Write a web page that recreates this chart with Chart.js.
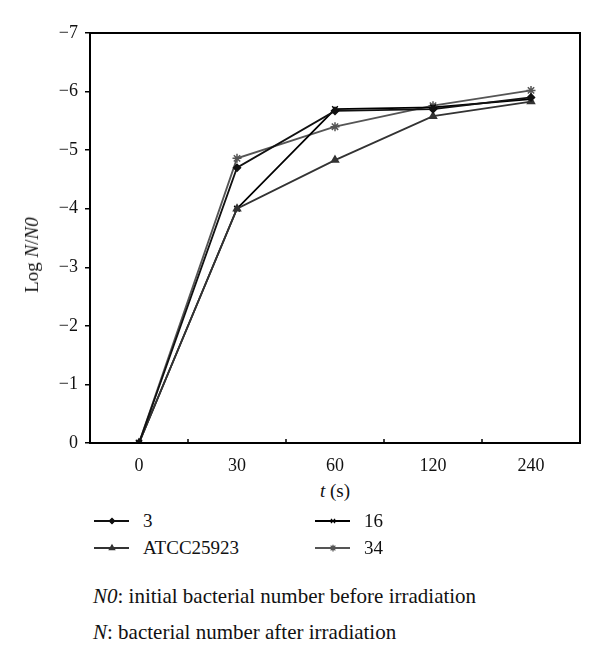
<!DOCTYPE html>
<html>
<head>
<meta charset="utf-8">
<script src="https://cdn.jsdelivr.net/npm/chart.js@4"></script>
<style>
  body { margin: 0; background: #fff; font-family: "Liberation Serif", "DejaVu Serif", serif; color: #111; }
  #wrap { position: relative; width: 600px; height: 665px; }
  #chartBox { position: absolute; left: 0; top: 0; width: 600px; height: 480px; }
  .abs { position: absolute; white-space: nowrap; }
  #yTitle { left: 32px; top: 255px; font-size: 19px; transform: translate(-50%, -50%) rotate(-90deg); }
  #xTitle { left: 335px; top: 491px; font-size: 19px; transform: translate(-50%, -50%); }
  .leg { font-size: 19px; display: flex; align-items: center; }
  .leg canvas { margin-right: 13px; }
  .note { left: 93px; font-size: 21px; }
</style>
</head>
<body>
<div id="wrap">
  <div id="chartBox"><canvas id="logChart"></canvas></div>
  <div class="abs" id="yTitle">Log <i>N</i>/<i>N0</i></div>
  <div class="abs" id="xTitle"><i>t</i> (s)</div>
  <div id="legend"></div>
  <div class="abs note" style="top:584px"><i>N0</i>: initial bacterial number before irradiation</div>
  <div class="abs note" style="top:620px"><i>N</i>: bacterial number after irradiation</div>
</div>
<script>
const times = ['0', '30', '60', '120', '240'];
const strain3 = [0, -4.7, -5.67, -5.7, -5.9];
const strainATCC = [0, -4.0, -4.83, -5.58, -5.83];
const strain16 = [0, -4.0, -5.7, -5.73, -5.87];
const strain34 = [0, -4.86, -5.4, -5.76, -6.02];
const yTicks = [0, -1, -2, -3, -4, -5, -6, -7];

const series = [
    { label: '3', data: strain3, color: '#111', style: 'rectRot', r: 3.5 },
    { label: 'ATCC25923', data: strainATCC, color: '#333', style: 'triangle', r: 4 },
    { label: '16', data: strain16, color: '#000', style: 'crossRot', r: 4 },
    { label: '34', data: strain34, color: '#555', style: 'star', r: 4.5 }
];

// box round the plot + small inward ticks between categories
const framePlugin = {
    id: 'frame',
    afterDraw(chart) {
        const { ctx, chartArea: a } = chart;
        const xs = chart.scales.x;
        ctx.save();
        ctx.strokeStyle = '#000';
        ctx.lineWidth = 2;
        ctx.strokeRect(a.left, a.top, a.right - a.left, a.bottom - a.top);
        ctx.lineWidth = 1.5;
        for (let i = 0; i < times.length - 1; i++) {
            const px = (xs.getPixelForValue(i) + xs.getPixelForValue(i + 1)) / 2;
            ctx.beginPath();
            ctx.moveTo(px, a.bottom);
            ctx.lineTo(px, a.bottom - 4);
            ctx.stroke();
        }
        ctx.restore();
    }
};

const tickFont = { family: 'Liberation Serif', size: 18 };

new Chart(document.getElementById('logChart').getContext('2d'), {
    type: 'line',
    data: {
        labels: times,
        datasets: series.map(s => ({
            label: s.label,
            data: s.data,
            borderColor: s.color,
            backgroundColor: s.color,
            borderWidth: 1.8,
            pointStyle: s.style,
            pointRadius: s.r,
            pointBorderWidth: 1.5,
            tension: 0
        }))
    },
    options: {
        responsive: true,
        maintainAspectRatio: false,
        animation: false,
        layout: { padding: { top: 33, right: 20, left: 0, bottom: 0 } },
        plugins: { legend: { display: false }, tooltip: { enabled: false } },
        scales: {
            x: {
                offset: true,
                grid: { display: true, drawOnChartArea: false, drawTicks: false, offset: true },
                border: { display: true, color: '#000', width: 2 },
                ticks: { color: '#111', font: tickFont, padding: 12 },
                afterFit: s => { s.height = 37; }
            },
            y: {
                reverse: true,
                min: -7,
                max: 0,
                afterBuildTicks: s => { s.ticks = yTicks.map(v => ({ value: v })); },
                grid: { display: true, drawOnChartArea: false, drawTicks: true, tickLength: 5, color: '#000', lineWidth: 1.5 },
                border: { display: true, color: '#000', width: 2 },
                ticks: {
                    color: '#111',
                    font: tickFont,
                    padding: 7,
                    callback: v => v < 0 ? '\u2212' + Math.abs(v) : String(v)
                },
                afterFit: s => { s.width = 90; }
            }
        }
    },
    plugins: [framePlugin]
});

// legend in two columns
const legendPos = [
    { x: 94, y: 510 },
    { x: 94, y: 537 },
    { x: 315, y: 510 },
    { x: 315, y: 537 }
];
const legendEl = document.getElementById('legend');
series.forEach((s, i) => {
    const item = document.createElement('div');
    item.className = 'abs leg';
    item.style.left = legendPos[i].x + 'px';
    item.style.top = legendPos[i].y + 'px';
    const c = document.createElement('canvas');
    c.width = 36; c.height = 22;
    const g = c.getContext('2d');
    g.strokeStyle = s.color;
    g.fillStyle = s.color;
    g.lineWidth = 1.8;
    g.beginPath(); g.moveTo(0, 11); g.lineTo(35, 11); g.stroke();
    if (Chart.helpers && Chart.helpers.drawPoint) {
        g.lineWidth = 1.3;
        Chart.helpers.drawPoint(g, { pointStyle: s.style, radius: s.r * 0.75, borderWidth: 1.3 }, 18, 11);
        if (s.style === 'rectRot' || s.style === 'triangle') g.fill();
    } else {
        g.beginPath(); g.arc(18, 11, 2.5, 0, Math.PI * 2); g.fill();
    }
    const t = document.createElement('span');
    t.textContent = s.label;
    item.appendChild(c);
    item.appendChild(t);
    legendEl.appendChild(item);
});
</script>
</body>
</html>
